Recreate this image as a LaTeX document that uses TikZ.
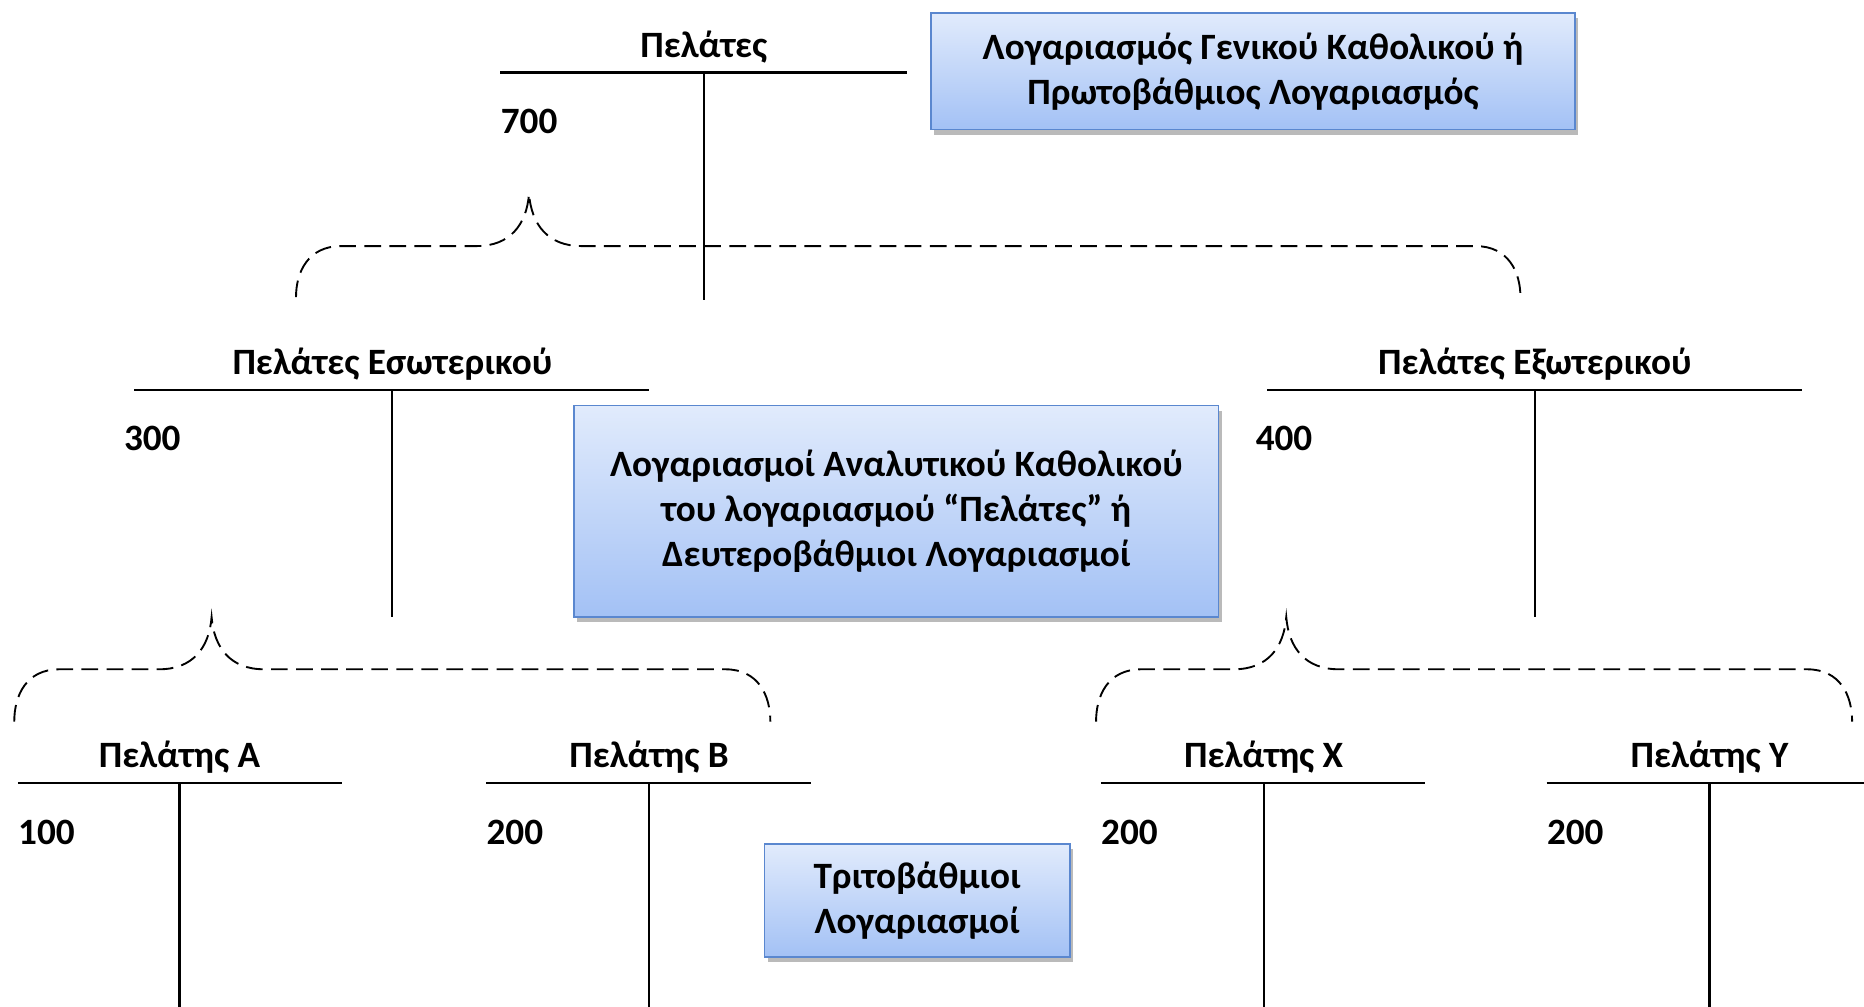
\documentclass[tikz,border=0pt]{standalone}
\usepackage{fontspec}
\setmainfont{Carlito}
\usetikzlibrary{shadows}

\definecolor{boxtop}{HTML}{E1EBFC}
\definecolor{boxbottom}{HTML}{A3C1F5}
\definecolor{boxedge}{HTML}{5A87CF}

\begin{document}
\begin{tikzpicture}[
    x=0.02cm, y=-0.02cm, % one unit = one pixel of the layout, y pointing down
    font=\fontsize{17.8}{21.5}\selectfont\bfseries,
    title/.style={inner sep=0pt, anchor=base}, % account name over the T
    amount/.style={inner sep=0pt, anchor=base west}, % debit balance
    tline/.style={black, line width=1pt}, % the T itself
    bracket/.style={black, line width=0.9pt, dash pattern=on 8pt off 4pt}, % dashed curly brace
    infobox/.style={draw=boxedge, line width=0.8pt, top color=boxtop, bottom color=boxbottom,
        align=center, inner sep=4pt,
        drop shadow={shadow xshift=1.5pt, shadow yshift=-2.5pt, fill=black!45, opacity=0.6}}
]

    \useasboundingbox (0,0) rectangle (1568,847);

    % === T-accounts ===
    % name / title x / left / right / line y / stem end / amount x / amount / title
    \foreach \name/\tx/\l/\r/\ly/\vb/\ax/\num/\txt in {
        pel/592/421/763/61/252/421/700/Πελάτες,
        esw/330/113/546/328/519/104/300/Πελάτες Εσωτερικού,
        exo/1291/1066/1516/328/519/1056/400/Πελάτες Εξωτερικού,
        pA/151/15/288/659/847/15/100/Πελάτης Α,
        pB/546/409/682/659/847/409/200/Πελάτης Β,
        pX/1063/926/1199/659/847/926/200/Πελάτης Χ,
        pY/1438/1301/1568/659/847/1301/200/Πελάτης Υ}
    {
        \node[title] (\name) at (\tx,\ly-13) {\txt};
        \node[amount] (\name-amt) at (\ax,\ly+51) {\num};
        \draw[tline] (\l,\ly) -- (\r,\ly);
        \draw[tline] (\tx,\ly) -- (\tx,\vb);
    }

    % === Dashed braces ===
    % left end / tip x / right end / end y / middle y / tip y
    \foreach \xl/\xt/\xr/\yb/\ym/\yt in {249/445/1279/250/207/163, 12/178/648/607/563/519, 922/1082/1558/607/563/519}
    {
        \draw[bracket] (\xl,\yb) .. controls (\xl,\ym+22) and (\xl+10,\ym) .. (\xl+38,\ym)
            -- (\xt-44,\ym) .. controls (\xt-16,\ym) and (\xt-2,\ym-18) .. (\xt,\yt)
            .. controls (\xt+2,\ym-18) and (\xt+16,\ym) .. (\xt+44,\ym)
            -- (\xr-38,\ym) .. controls (\xr-10,\ym) and (\xr,\ym+22) .. (\xr,\yb);
    }

    % === Legend boxes ===
    \node[infobox, minimum width=10.84cm, minimum height=1.96cm] (primary) at (1054,60)
        {Λογαριασμός Γενικού Καθολικού ή\\Πρωτοβάθμιος Λογαριασμός};
    \node[infobox, minimum width=10.84cm, minimum height=3.56cm] (secondary) at (754,430)
        {Λογαριασμοί Αναλυτικού Καθολικού\\του λογαριασμού “Πελάτες” ή\\Δευτεροβάθμιοι Λογαριασμοί};
    \node[infobox, minimum width=5.14cm, minimum height=1.9cm] (tertiary) at (771.5,757.5)
        {Τριτοβάθμιοι\\Λογαριασμοί};

\end{tikzpicture}
\end{document}
